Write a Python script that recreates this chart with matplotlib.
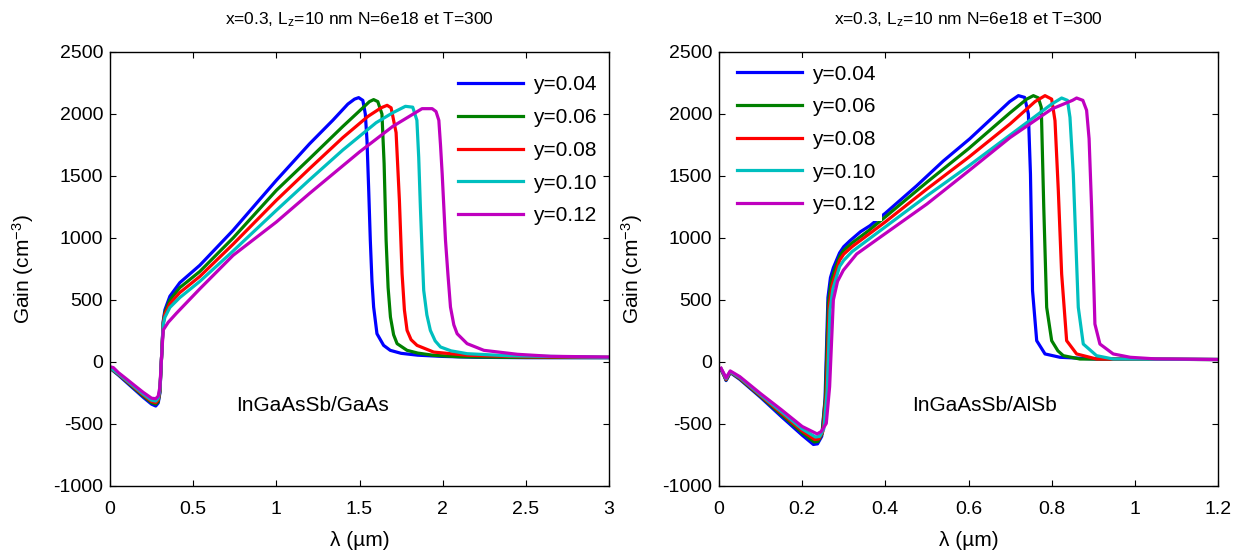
import matplotlib
matplotlib.use("Agg")
import matplotlib.pyplot as plt
from matplotlib.ticker import FuncFormatter, MultipleLocator

plt.rcParams['font.family'] = ['Liberation Sans', 'DejaVu Sans']
plt.rcParams['mathtext.fontset'] = 'custom'
plt.rcParams['mathtext.rm'] = 'Liberation Sans'
plt.rcParams['mathtext.it'] = 'Liberation Sans'

# ---- InGaAsSb/GaAs (left panel) ----
gaas_y004_x = [0.00, 0.05, 0.10, 0.15, 0.20, 0.25, 0.275, 0.29, 0.30, 0.31, 0.32, 0.33, 0.36, 0.42, 0.54, 0.74, 1.00, 1.20, 1.34, 1.43, 1.47, 1.495, 1.52, 1.535, 1.545, 1.555, 1.565, 1.575, 1.585, 1.605, 1.645, 1.685, 1.75, 1.85, 2.00, 2.20, 2.50, 3.00]
gaas_y004_g = [-50, -105, -165, -225, -285, -340, -355, -330, -250, 40, 330, 420, 530, 640, 780, 1062, 1465, 1760, 1950, 2080, 2120, 2132, 2110, 2000, 1788, 1400, 981, 650, 443, 228, 134, 94, 70, 55, 45, 38, 35, 35]

gaas_y006_x = [0.00, 0.05, 0.10, 0.15, 0.20, 0.25, 0.275, 0.29, 0.30, 0.31, 0.32, 0.33, 0.36, 0.42, 0.54, 0.74, 1.00, 1.20, 1.40, 1.52, 1.56, 1.585, 1.61, 1.635, 1.648, 1.66, 1.672, 1.686, 1.705, 1.726, 1.786, 1.85, 1.946, 2.10, 2.40, 3.00]
gaas_y006_g = [-48, -100, -158, -217, -275, -328, -340, -318, -240, 40, 320, 400, 500, 600, 730, 1000, 1384, 1640, 1900, 2050, 2100, 2116, 2100, 2000, 1600, 981, 600, 363, 220, 148, 94, 72, 54, 42, 37, 35]

gaas_y008_x = [0.00, 0.05, 0.10, 0.15, 0.20, 0.25, 0.275, 0.29, 0.30, 0.31, 0.32, 0.33, 0.36, 0.42, 0.54, 0.74, 1.00, 1.20, 1.40, 1.55, 1.63, 1.666, 1.69, 1.72, 1.74, 1.756, 1.77, 1.786, 1.81, 1.846, 1.946, 2.15, 2.50, 3.00]
gaas_y008_g = [-46, -97, -153, -210, -266, -318, -328, -305, -230, 40, 310, 385, 470, 560, 690, 950, 1304, 1560, 1810, 1980, 2050, 2070, 2050, 1850, 1300, 712, 420, 255, 180, 134, 80, 54, 42, 38]

gaas_y010_x = [0.00, 0.05, 0.10, 0.15, 0.20, 0.25, 0.275, 0.29, 0.30, 0.31, 0.32, 0.33, 0.36, 0.42, 0.54, 0.74, 1.00, 1.20, 1.40, 1.60, 1.70, 1.776, 1.82, 1.845, 1.856, 1.866, 1.876, 1.886, 1.905, 1.926, 1.955, 1.987, 2.05, 2.147, 2.40, 3.00]
gaas_y010_g = [-44, -94, -148, -203, -258, -308, -315, -292, -220, 40, 300, 360, 440, 520, 650, 895, 1223, 1470, 1710, 1930, 2010, 2062, 2055, 1950, 1650, 1250, 900, 578, 380, 255, 170, 121, 90, 67, 50, 38]

gaas_y012_x = [0.00, 0.02, 0.05, 0.10, 0.15, 0.20, 0.25, 0.275, 0.29, 0.30, 0.31, 0.32, 0.35, 0.40, 0.54, 0.74, 1.00, 1.20, 1.50, 1.70, 1.876, 1.937, 1.96, 1.977, 1.987, 1.997, 2.007, 2.017, 2.032, 2.047, 2.067, 2.087, 2.147, 2.248, 2.45, 2.65, 3.00]
gaas_y012_g = [-38, -45, -85, -138, -192, -245, -292, -296, -275, -200, 40, 258, 320, 394, 590, 860, 1129, 1360, 1694, 1900, 2043, 2043, 2020, 1949, 1750, 1519, 1250, 981, 700, 443, 300, 228, 148, 94, 62, 46, 40]

# ---- InGaAsSb/AlSb (right panel) ----
alsb_y004_x = [0.005, 0.012, 0.017, 0.022, 0.027, 0.05, 0.10, 0.15, 0.20, 0.227, 0.237, 0.247, 0.255, 0.262, 0.268, 0.275, 0.29, 0.30, 0.315, 0.34, 0.363, 0.40, 0.475, 0.539, 0.603, 0.667, 0.699, 0.72, 0.735, 0.744, 0.749, 0.754, 0.764, 0.784, 0.82, 0.908, 1.2]
alsb_y004_g = [-60, -110, -150, -120, -85, -140, -285, -440, -590, -665, -660, -600, -300, 520, 680, 760, 880, 930, 978, 1050, 1099, 1200, 1420, 1620, 1800, 2000, 2100, 2148, 2134, 2000, 1516, 575, 172, 65, 38, 24, 20]

alsb_y006_x = [0.005, 0.012, 0.017, 0.022, 0.027, 0.05, 0.10, 0.15, 0.20, 0.229, 0.238, 0.248, 0.256, 0.263, 0.27, 0.278, 0.29, 0.30, 0.32, 0.36, 0.40, 0.50, 0.60, 0.70, 0.74, 0.756, 0.768, 0.775, 0.781, 0.788, 0.80, 0.815, 0.828, 0.868, 1.2]
alsb_y006_g = [-58, -108, -145, -115, -82, -135, -278, -425, -570, -645, -640, -580, -280, 480, 650, 740, 850, 900, 960, 1060, 1170, 1450, 1720, 2010, 2120, 2148, 2130, 2054, 1247, 441, 172, 90, 51, 24, 20]

alsb_y008_x = [0.005, 0.012, 0.017, 0.022, 0.027, 0.05, 0.10, 0.15, 0.20, 0.23, 0.24, 0.25, 0.258, 0.265, 0.272, 0.28, 0.29, 0.30, 0.32, 0.36, 0.40, 0.50, 0.60, 0.70, 0.76, 0.784, 0.80, 0.808, 0.816, 0.824, 0.836, 0.86, 0.908, 1.2]
alsb_y008_g = [-57, -105, -140, -110, -80, -130, -272, -412, -555, -625, -620, -560, -260, 450, 620, 710, 820, 870, 930, 1030, 1130, 1395, 1650, 1920, 2100, 2148, 2120, 1946, 1382, 710, 172, 65, 24, 20]

alsb_y010_x = [0.005, 0.012, 0.017, 0.022, 0.027, 0.05, 0.10, 0.15, 0.20, 0.232, 0.242, 0.252, 0.26, 0.267, 0.274, 0.282, 0.29, 0.30, 0.32, 0.36, 0.40, 0.50, 0.60, 0.70, 0.80, 0.824, 0.838, 0.844, 0.852, 0.864, 0.876, 0.908, 0.948, 1.2]
alsb_y010_g = [-55, -100, -135, -105, -78, -125, -265, -400, -540, -605, -600, -540, -240, 420, 590, 680, 770, 820, 890, 990, 1090, 1340, 1580, 1830, 2080, 2129, 2110, 1973, 1516, 441, 145, 51, 24, 20]

alsb_y012_x = [0.005, 0.012, 0.017, 0.022, 0.027, 0.05, 0.10, 0.15, 0.20, 0.236, 0.246, 0.258, 0.266, 0.275, 0.285, 0.299, 0.331, 0.387, 0.50, 0.60, 0.70, 0.80, 0.85, 0.86, 0.875, 0.884, 0.89, 0.896, 0.904, 0.916, 0.948, 0.989, 1.05, 1.2]
alsb_y012_g = [-50, -95, -130, -100, -72, -118, -255, -385, -520, -580, -560, -495, -200, 500, 650, 740, 871, 1005, 1274, 1540, 1810, 2040, 2110, 2129, 2110, 2030, 1800, 1247, 306, 145, 65, 38, 25, 20]

labels = ['y=0.04', 'y=0.06', 'y=0.08', 'y=0.10', 'y=0.12']
colors = ['#0000ff', '#008000', '#ff0000', '#00bfbf', '#bf00bf']
title_text = r'x=0.3, L$_{\mathrm{z}}$=10 nm N=6e18 et T=300'

fig = plt.figure(figsize=(12.42, 5.53), dpi=100)
ax1 = fig.add_axes([110 / 1242, 67 / 553, 499 / 1242, 434 / 553])
ax2 = fig.add_axes([719 / 1242, 67 / 553, 499 / 1242, 434 / 553])

panels = [
    (ax1, [(gaas_y004_x, gaas_y004_g), (gaas_y006_x, gaas_y006_g), (gaas_y008_x, gaas_y008_g),
           (gaas_y010_x, gaas_y010_g), (gaas_y012_x, gaas_y012_g)],
     (0, 3), 0.5, 'InGaAsSb/GaAs', 0.76, 'upper right', (1.0, 0.975)),
    (ax2, [(alsb_y004_x, alsb_y004_g), (alsb_y006_x, alsb_y006_g), (alsb_y008_x, alsb_y008_g),
           (alsb_y010_x, alsb_y010_g), (alsb_y012_x, alsb_y012_g)],
     (0, 1.2), 0.2, 'InGaAsSb/AlSb', 0.464, 'upper left', (0.012, 1.0)),
]

fmt = FuncFormatter(lambda v, p: '%g' % round(v, 6))

for ax, series, xlim, xstep, tag, tag_x, loc, anchor in panels:
    for (xs, gs), c, lab in zip(series, colors, labels):
        ax.plot(xs, gs, color=c, lw=2.3, label=lab, solid_joinstyle='round')
    ax.set_xlim(*xlim)
    ax.set_ylim(-1000, 2500)
    ax.xaxis.set_major_locator(MultipleLocator(xstep))
    ax.yaxis.set_major_locator(MultipleLocator(500))
    ax.xaxis.set_major_formatter(fmt)
    ax.yaxis.set_major_formatter(fmt)
    ax.tick_params(direction='in', top=True, right=True, length=4, width=0.8,
                   labelsize=14)
    ax.tick_params(axis='x', pad=11)
    ax.tick_params(axis='y', pad=5)
    for s in ax.spines.values():
        s.set_linewidth(1.0)
    ax.set_xlabel('λ (µm)', fontsize=15, labelpad=9)
    ax.set_ylabel(r'Gain (cm$^{\mathrm{-3}}$)', fontsize=15, labelpad=12)
    ax.set_title(title_text, fontsize=12.5, pad=20,
                 family=['Liberation Sans Narrow', 'Liberation Sans', 'DejaVu Sans'])
    ax.text(tag_x, -350, tag, fontsize=15, ha='left', va='center')
    leg = ax.legend(loc=loc, bbox_to_anchor=anchor, fontsize=15, frameon=True,
                    fancybox=False, handlelength=3.1, handletextpad=0.5,
                    labelspacing=0.66, borderaxespad=0.3, borderpad=0.3)
    leg.get_frame().set_edgecolor('none')
    leg.get_frame().set_facecolor('white')
    leg.get_frame().set_alpha(1.0)

fig.savefig('out.png', dpi=100, facecolor='white')
